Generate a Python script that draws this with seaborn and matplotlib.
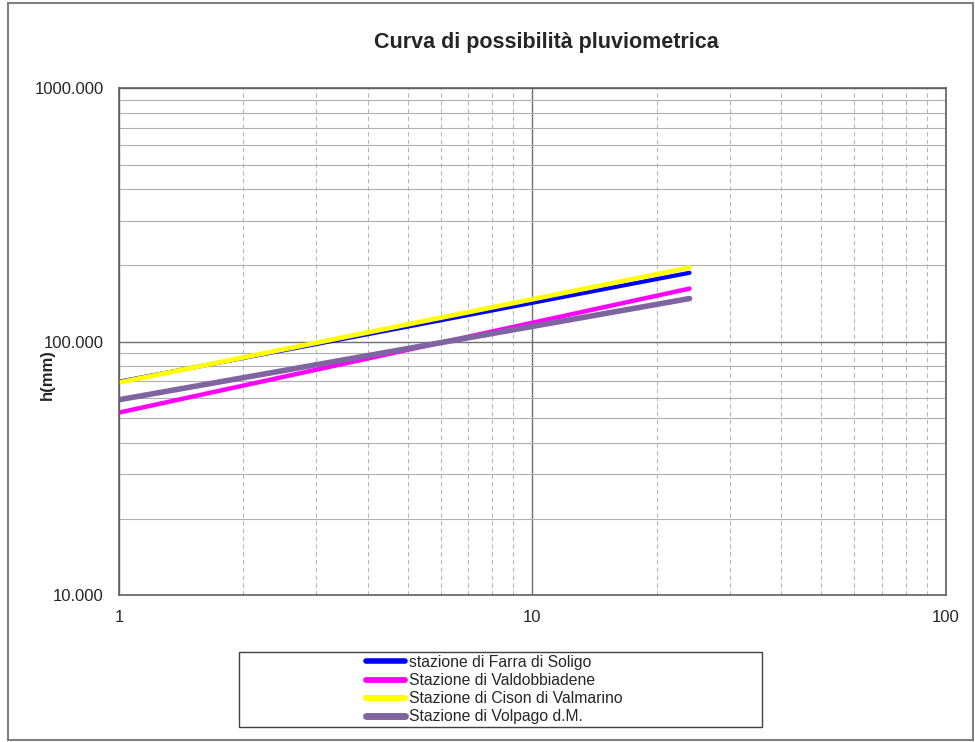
import matplotlib
matplotlib.use("Agg")
import matplotlib.pyplot as plt
import seaborn as sns
import pandas as pd
from matplotlib.ticker import FixedLocator, FixedFormatter, LogLocator, NullFormatter
from matplotlib.patches import Rectangle

# Data (durata [h] vs altezza di pioggia [mm])
durations = [1, 24]
h_farra = [69.5, 187.0]
h_valdobbiadene = [52.5, 162.0]
h_cison = [69.0, 196.0]
h_volpago = [59.0, 148.0]

stations = [
    "stazione di Farra di Soligo",
    "Stazione di Valdobbiadene",
    "Stazione di Cison di Valmarino",
    "Stazione di Volpago d.M.",
]
colors = ["#0000ff", "#ff00ff", "#ffff00", "#8064a2"]
widths = [3.0, 3.2, 3.4, 4.0]

frames = []
for name, vals in zip(stations, [h_farra, h_valdobbiadene, h_cison, h_volpago]):
    frames.append(pd.DataFrame({"t": durations, "h": vals, "stazione": name}))
df = pd.concat(frames, ignore_index=True)

sns.set_style("white")
plt.rcParams["font.family"] = ["Liberation Sans", "DejaVu Sans"]

fig = plt.figure(figsize=(9.75, 7.42), dpi=100)
ax = fig.add_axes([0.122, 0.198, 0.848, 0.683])

sns.lineplot(data=df, x="t", y="h", hue="stazione", palette=colors,
             hue_order=stations, ax=ax, legend=False)
for line, lw in zip(ax.get_lines(), widths):
    line.set_linewidth(lw)
    line.set_solid_capstyle("round")

ax.set_xscale("log")
ax.set_yscale("log")
ax.set_xlim(1, 100)
ax.set_ylim(10, 1000)

# grid
ax.xaxis.set_minor_locator(LogLocator(base=10, subs=range(2, 10)))
ax.yaxis.set_minor_locator(LogLocator(base=10, subs=range(2, 10)))
ax.xaxis.set_minor_formatter(NullFormatter())
ax.yaxis.set_minor_formatter(NullFormatter())
ax.grid(True, which="minor", axis="x", color="#b8b8b8", linestyle=(0, (4, 3)), linewidth=0.8)
ax.grid(True, which="minor", axis="y", color="#b0b0b0", linestyle="-", linewidth=0.8)
ax.grid(True, which="major", color="#707070", linestyle="-", linewidth=1.0)
ax.set_axisbelow(True)

ax.yaxis.set_major_locator(FixedLocator([10, 100, 1000]))
ax.yaxis.set_major_formatter(FixedFormatter(["10.000", "100.000", "1000.000"]))
ax.xaxis.set_major_locator(FixedLocator([1, 10, 100]))
ax.xaxis.set_major_formatter(FixedFormatter(["1", "10", "100"]))
ax.tick_params(axis="both", which="major", labelsize=12, length=5, color="#606060", pad=6)
ax.tick_params(axis="both", which="minor", length=0)

for s in ax.spines.values():
    s.set_color("#606060")
    s.set_linewidth(1.2)

ax.set_xlabel("")
ax.set_ylabel("h(mm)", fontsize=12, fontweight="bold")
ax.yaxis.set_label_coords(-0.078, 0.436)

fig.text(0.5605, 0.943, "Curva di possibilità pluviometrica", ha="center", va="center",
         fontsize=15.5, fontweight="bold")

handles = [plt.Line2D([0], [0], color=c, lw=lw + 1) for c, lw in zip(colors, widths)]
leg = fig.legend(handles, stations, loc="center", bbox_to_anchor=(0.507, 0.0705),
                 ncol=1, fontsize=11.3, frameon=False,
                 handlelength=2.5, handletextpad=0.25, labelspacing=0.2,
                 borderpad=0.2)

# legend box (wider than its content, as in the original)
fig.patches.append(Rectangle((0.245, 0.020), 0.537, 0.101, transform=fig.transFigure,
                             fill=False, edgecolor="#404040", linewidth=1.0))

# outer chart border
fig.patches.append(Rectangle((0.008, 0.003), 0.99, 0.993, transform=fig.transFigure,
                             fill=False, edgecolor="#808080", linewidth=1.5))

fig.savefig("out.png", dpi=100)
